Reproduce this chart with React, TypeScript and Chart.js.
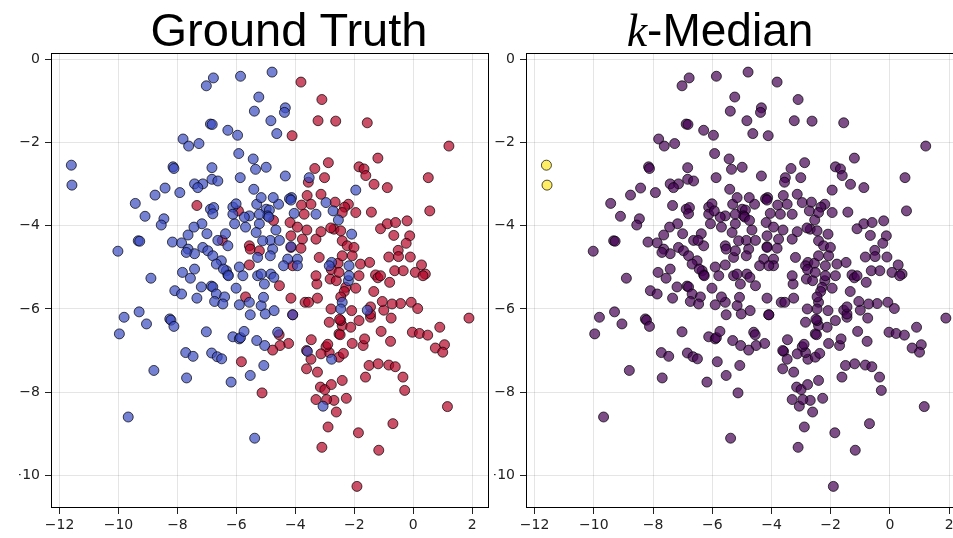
import React, { useEffect, useRef } from "react";
import { Chart, registerables } from "chart.js";
Chart.register(...registerables);

// Ground-truth class 0 (blue)
const blueX = [-11.6, -11.58, -6.78, -7.02, -5.86, -5.24, -5.39, -4.79, -4.83, -6.88, -6.82, -6.29, -5.96, -7.81, -7.62, -7.27, -5.92, -5.43, -5.35, -4.99, -8.15, -8.12, -6.83, -5.87, -5.41, -8.42, -8.76, -7.92, -7.42, -7.14, -6.83, -6.63, -9.43, -9.1, -8.46, -8.55, -6.88, -6.77, -6.8, -6.12, -6.01, -5.56, -5.31, -5.16, -4.99, -6.06, -5.69, -5.22, -7.17, -7.44, -7.64, -9.33, -9.28, -10.02, -8.17, -7.86, -7.64, -7.42, -7.14, -6.97, -6.8, -6.63, -6.37, -6.29, -6.51, -6.68, -5.28, -5.9, -6.34, -7.83, -7.42, -8.9, -7.56, -8.09, -7.86, -7.34, -7.19, -6.85, -6.8, -6.68, -6.4, -6.74, -6.46, -6.01, -5.9, -5.56, -5.16, -5.53, -5.02, -5.08, -5.28, -5.05, -5.78, -6.29, -9.3, -9.81, -9.05, -9.97, -8.26, -8.22, -8.12, -7.02, -6.12, -5.9, -5.86, -5.74, -5.31, -5.04, -7.72, -7.47, -6.84, -6.65, -6.5, -8.8, -7.69, -6.18, -5.53, -5.07, -9.67, -5.38, -4.34, -4.37, -4.63, -4.34, -3.53, -1.95, -2.96, -3.3, -4.04, -4.13, -4.57, -4.75, -2.54, -2.09, -7.31, -6.12, -5.73, -7.0, -7.7, -6.44, -6.27, -4.2, -4.15, -4.88, -4.94, -4.9, -2.72, -5.33, -4.66, -4.85, -4.54, -4.77, -4.85, -4.15, -4.26, -4.4, -3.93, -2.77, -2.85, -2.18, -2.2, -2.18, -2.41, -2.46, -1.56, -4.6, -4.72, -4.83, -4.73, -3.93, -3.59, -2.77, -3.06, -4.09, -5.22, -5.11, -5.16];
const blueY = [-2.54, -3.02, -0.44, -0.63, -0.4, -0.9, -1.24, -0.3, -1.47, -1.55, -1.56, -1.7, -1.82, -1.91, -2.08, -2.02, -2.26, -2.39, -2.64, -2.59, -2.58, -2.62, -2.6, -2.84, -3.12, -3.09, -3.26, -3.2, -2.99, -2.99, -2.88, -2.92, -3.46, -3.77, -3.83, -3.98, -3.6, -3.56, -3.71, -3.55, -3.47, -3.76, -3.48, -3.32, -3.6, -3.95, -4.03, -3.95, -3.95, -4.03, -4.22, -4.36, -4.37, -4.61, -4.39, -4.41, -4.56, -4.67, -4.52, -4.6, -4.72, -4.35, -4.19, -4.48, -4.84, -4.92, -4.76, -4.99, -5.08, -5.12, -5.04, -5.26, -5.26, -5.56, -5.64, -5.74, -5.47, -5.45, -5.47, -5.64, -5.71, -5.82, -5.88, -5.5, -5.9, -5.84, -5.92, -6.14, -6.12, -5.72, -5.2, -5.4, -5.2, -5.18, -6.07, -6.2, -6.36, -6.6, -6.24, -6.27, -6.42, -6.55, -6.67, -6.72, -6.69, -6.54, -6.76, -6.88, -7.05, -7.14, -7.06, -7.15, -7.2, -7.48, -7.66, -7.76, -7.6, -7.36, -8.6, -9.11, -1.16, -1.27, -1.78, -2.8, -2.84, -3.14, -3.44, -3.72, -3.7, -3.32, -3.48, -3.32, -3.86, -4.2, -3.08, -3.72, -3.79, -4.19, -4.64, -5.04, -5.2, -3.35, -3.38, -3.62, -3.76, -3.79, -3.64, -4.16, -4.1, -4.35, -4.35, -4.56, -4.72, -4.5, -4.8, -4.96, -4.8, -4.88, -4.96, -4.96, -5.32, -5.2, -5.84, -6.0, -6.03, -6.56, -6.04, -5.16, -5.24, -4.96, -7.02, -7.21, -8.34, -6.14, -3.72, -4.36, -5.16];

// Ground-truth class 1 (red)
const redX = [-7.34, -5.93, -6.48, -5.56, -5.53, -5.22, -5.56, -5.69, -5.83, -5.13, -3.81, -3.1, -4.11, -3.23, -2.63, -1.56, 1.21, -3.56, -3.34, -2.88, -3.01, -1.84, -1.67, -1.61, -1.2, -1.33, -0.88, 0.51, 0.56, -3.6, -3.13, -2.65, -2.2, -2.33, -1.95, -1.42, -3.79, -3.47, -3.7, -2.69, -2.8, -1.11, -0.88, -0.6, -0.21, -0.66, -0.12, -0.24, -0.51, -0.83, -0.1, 0.28, 0.07, 0.41, 0.33, 1.89, 0.9, 1.06, 0.75, 1.0, -0.03, 0.21, 0.49, 1.16, -0.07, 0.15, -0.43, -0.72, -1.0, -0.75, -1.09, -0.77, -1.05, -1.34, -1.5, -1.19, -0.83, -0.61, -1.62, -0.35, -0.29, -0.69, -1.17, -1.86, -2.89, -3.1, -1.91, -2.27, -2.61, -2.69, -2.94, -3.3, -3.15, -3.0, -2.78, -2.41, -3.25, -3.62, -3.47, -2.85, -2.96, -2.9, -3.13, -3.62, -3.46, -2.52, -2.37, -2.07, -1.7, -1.65, -2.52, -2.48, -2.41, -2.12, -2.46, -2.5, -2.85, -2.79, -2.09, -1.84, -1.45, -1.45, -1.45, -4.23, -4.52, -4.77, -4.09, -4.15, -3.67, -3.55, -3.25, -3.27, -2.82, -2.61, -2.29, -2.34, -1.95, -2.46, -1.84, -1.28, -1.2, -0.8, -0.63, -0.34, -1.79, -2.55, -4.09, -4.54, -4.74, -4.18, -3.93, -3.61, -4.15, -3.76, -3.3, -3.13, -4.15, -3.81, -3.19, -2.78, -3.3, -0.5, -1.48, -1.11, -2.41, -2.46, -2.41, -2.24, -2.01, -2.07, -2.41, -2.52, -4.55];
const redY = [-3.51, -3.64, -4.35, -4.48, -4.56, -4.6, -4.94, -5.71, -7.27, -8.02, -0.54, -0.96, -1.83, -1.47, -1.48, -1.52, -2.08, -2.95, -2.62, -2.48, -2.84, -2.58, -2.63, -2.79, -2.37, -3.0, -3.08, -2.84, -3.64, -3.27, -3.24, -3.43, -3.48, -3.55, -3.68, -3.67, -3.5, -3.48, -3.72, -4.08, -4.05, -4.07, -3.95, -3.92, -3.88, -4.23, -4.24, -4.42, -4.59, -4.75, -4.75, -4.94, -5.12, -5.16, -5.2, -6.22, -6.44, -6.86, -6.94, -7.04, -6.56, -6.59, -6.63, -8.35, -5.84, -5.99, -5.87, -5.88, -6.03, -6.22, -6.54, -6.78, -5.82, -5.58, -7.36, -7.32, -7.35, -7.39, -7.64, -7.64, -7.96, -8.76, -9.4, -8.98, -8.84, -9.33, -10.27, -8.15, -8.48, -8.2, -8.18, -8.18, -7.88, -7.94, -7.82, -7.72, -7.52, -7.44, -7.21, -7.05, -6.91, -6.85, -7.08, -7.0, -6.74, -7.16, -7.07, -6.83, -6.88, -6.72, -6.6, -6.62, -6.4, -6.44, -6.28, -6.25, -6.32, -6.0, -6.04, -6.28, -6.2, -6.12, -5.95, -6.83, -6.88, -6.99, -6.14, -5.74, -5.84, -5.84, -5.74, -5.4, -5.28, -5.32, -5.48, -5.58, -5.5, -5.71, -5.2, -5.18, -5.25, -5.36, -5.08, -5.08, -4.92, -4.9, -4.96, -5.44, -3.87, -3.92, -4.03, -4.1, -4.24, -4.32, -4.32, -4.14, -4.52, -4.54, -4.76, -5.05, -5.2, -4.74, -4.88, -5.2, -3.68, -4.12, -4.36, -4.48, -4.52, -4.72, -4.72, -5.12, -6.62];

// k-Median: the two far-left blue points form the second cluster
const kMedianSecondCluster = [0, 1];

const xTicks = [-12, -10, -8, -6, -4, -2, 0, 2];
const yTicks = [0, -2, -4, -6, -8, -10];
const xRange = [-12.29, 2.57];
const yRange = [-10.79, 0.15];

const fmt = (v: number) => (v < 0 ? "\u2212" + Math.abs(v) : String(v));

const framePlugin = {
  id: "frame",
  afterDatasetsDraw(chart: any) {
    const { ctx, chartArea: a } = chart;
    ctx.save();
    ctx.strokeStyle = "#000";
    ctx.lineWidth = 1;
    const l = Math.round(a.left) + 0.5;
    const t = Math.round(a.top) + 0.5;
    const r = Math.round(a.right) - 0.5;
    const b = Math.round(a.bottom) - 0.5;
    ctx.strokeRect(l, t, r - l, b - t);
    ctx.restore();
  },
};

const pts = (xs: number[], ys: number[]) => xs.map((x, i) => ({ x, y: ys[i] }));

function makeConfig(datasets: any[], yWidth: number, padRight: number): any {
  const tickFont = { family: "'DejaVu Sans', sans-serif", size: 14 };
  return {
    type: "scatter",
    data: { datasets },
    plugins: [framePlugin],
    options: {
      animation: false,
      responsive: false,
      devicePixelRatio: 1,
      events: [],
      layout: { padding: { top: 12, right: padRight, left: 0, bottom: 0 } },
      plugins: { legend: { display: false }, tooltip: { enabled: false }, title: { display: false } },
      scales: {
        x: {
          type: "linear",
          min: xRange[0],
          max: xRange[1],
          afterBuildTicks: (s: any) => {
            s.ticks = xTicks.map((v) => ({ value: v }));
          },
          afterFit: (s: any) => {
            s.height = 30;
          },
          border: { display: false },
          grid: { color: "rgba(0,0,0,0.1)", tickColor: "#222", tickLength: 6, drawTicks: true },
          ticks: { callback: (v: number) => fmt(v), color: "#222", font: tickFont, padding: 3, maxRotation: 0, autoSkip: false },
        },
        y: {
          type: "linear",
          min: yRange[0],
          max: yRange[1],
          afterBuildTicks: (s: any) => {
            s.ticks = yTicks.map((v) => ({ value: v }));
          },
          afterFit: (s: any) => {
            s.width = yWidth;
          },
          border: { display: false },
          grid: { color: "rgba(0,0,0,0.1)", tickColor: "#222", tickLength: 6, drawTicks: true },
          ticks: { callback: (v: number) => fmt(v), color: "#222", font: tickFont, padding: 5, autoSkip: false },
        },
      },
    },
  };
}

const pointStyle = (fill: string) => ({
  backgroundColor: fill,
  borderColor: "rgba(0,0,0,0.7)",
  borderWidth: 1,
  pointRadius: 5,
  pointHoverRadius: 5,
});

export default function App() {
  const leftRef = useRef<HTMLCanvasElement>(null);
  const rightRef = useRef<HTMLCanvasElement>(null);

  useEffect(() => {
    const gt = new Chart(
      leftRef.current as HTMLCanvasElement,
      makeConfig(
        [
          { data: pts(blueX, blueY), ...pointStyle("rgba(59,76,192,0.7)") },
          { data: pts(redX, redY), ...pointStyle("rgba(180,4,38,0.7)") },
        ],
        32,
        4
      )
    );
    const allX = [...blueX, ...redX];
    const allY = [...blueY, ...redY];
    const mainPts: { x: number; y: number }[] = [];
    const minorPts: { x: number; y: number }[] = [];
    allX.forEach((x, i) => {
      if (kMedianSecondCluster.includes(i)) minorPts.push({ x, y: allY[i] });
      else mainPts.push({ x, y: allY[i] });
    });
    const km = new Chart(
      rightRef.current as HTMLCanvasElement,
      makeConfig(
        [
          { data: mainPts, ...pointStyle("rgba(68,1,84,0.7)") },
          { data: minorPts, ...pointStyle("rgba(253,231,37,0.7)") },
        ],
        32,
        5
      )
    );
    return () => {
      gt.destroy();
      km.destroy();
    };
  }, []);

  const titleStyle: React.CSSProperties = {
    position: "absolute",
    top: 7,
    fontFamily: "'Liberation Sans', Arial, sans-serif",
    fontSize: 46,
    lineHeight: "46px",
    whiteSpace: "nowrap",
    color: "#000",
  };

  return (
    <div style={{ position: "fixed", left: 0, top: 0, width: 953, height: 538, overflow: "hidden", background: "#fff" }}>
      <canvas ref={rightRef} width={478} height={498} style={{ position: "absolute", left: 494, top: 40, width: 478, height: 498 }} />
      <canvas ref={leftRef} width={476} height={498} style={{ position: "absolute", left: 19, top: 40, width: 476, height: 498 }} />
      <div style={{ ...titleStyle, fontSize: 47, left: 289, transform: "translateX(-50%)" }}>Ground Truth</div>
      <div style={{ ...titleStyle, left: 720, transform: "translateX(-50%)" }}>
        <span style={{ fontFamily: "'Liberation Serif', serif", fontStyle: "italic" }}>k</span>-Median
      </div>
    </div>
  );
}
